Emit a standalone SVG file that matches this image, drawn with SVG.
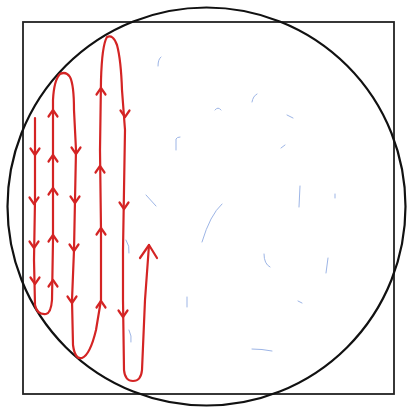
<svg xmlns="http://www.w3.org/2000/svg" xmlns:xlink="http://www.w3.org/1999/xlink" width="408" height="409" viewBox="0 0 408 409">
<style>
.frame{fill:none;stroke:#222;stroke-width:1.8}
.circ{fill:none;stroke:#111;stroke-width:2.2}
.red{fill:none;stroke:#d42424;stroke-width:2.2;stroke-linecap:round;stroke-linejoin:round}
.noise{fill:none;stroke:#9db5e6;stroke-width:1;stroke-linecap:round}
</style>
<defs>
<path id="dn" d="M-4.5,-6.5 L0,0 L4.5,-6.5" class="red"/>
<path id="up" d="M-4.5,6.5 L0,0 L4.5,6.5" class="red"/>
</defs>
<rect width="408" height="409" fill="#fff"/>
<g id="square"><rect class="frame" x="23" y="22" width="371" height="372"/></g>
<g id="circle"><circle class="circ" cx="206.5" cy="206.5" r="199"/></g>
<g id="noise">
<path class="noise" d="M158,66 Q158,59 161,57"/>
<path class="noise" d="M252,102 Q253,96 257,94"/>
<path class="noise" d="M215,110 Q218,106 221,110"/>
<path class="noise" d="M287,115 L293,118"/>
<path class="noise" d="M176,150 L176,139 Q177,137 180,137"/>
<path class="noise" d="M281,148 L285,145"/>
<path class="noise" d="M146,195 L156,206"/>
<path class="noise" d="M222,204 Q210,215 202,242"/>
<path class="noise" d="M300,186 L299,207"/>
<path class="noise" d="M335,194 L335,198"/>
<path class="noise" d="M126,240 Q130,246 129,253"/>
<path class="noise" d="M129,330 Q132,336 131,342"/>
<path class="noise" d="M264,254 Q264,264 270,267"/>
<path class="noise" d="M328,258 L326,273"/>
<path class="noise" d="M187,297 L187,307"/>
<path class="noise" d="M298,301 L302,303"/>
<path class="noise" d="M252,349 Q262,349 272,351"/>
</g>
<g id="connectors">
<path class="red" d="M35,118 L35,200 L34,260 L35,305 Q37,315 46,314 Q51,313 52,300 L53,240 L53,160 L53,100 Q54,80 60,74 Q66,71 70,77 Q74,85 74,110 L76,150 L74,250 L72,300 L73,345 Q75,360 82,358 Q90,355 96,330 L101,300 L101,230 L100,150 L101,80 Q102,45 107,37 Q113,34 117,45 Q121,60 122,90 L125,130 L123,250 L123,300 L124,370 Q125,381 133,381 Q141,381 142,370 L145,300 L149,245"/>
<use xlink:href="#dn" x="35" y="155"/>
<use xlink:href="#dn" x="34" y="204"/>
<use xlink:href="#dn" x="34" y="248"/>
<use xlink:href="#dn" x="35" y="284"/>
<use xlink:href="#up" x="53" y="110"/>
<use xlink:href="#up" x="53" y="155"/>
<use xlink:href="#up" x="53" y="188"/>
<use xlink:href="#up" x="53" y="235"/>
<use xlink:href="#up" x="53" y="280"/>
<use xlink:href="#dn" x="76" y="154"/>
<use xlink:href="#dn" x="75" y="203"/>
<use xlink:href="#dn" x="74" y="251"/>
<use xlink:href="#dn" x="72" y="303"/>
<use xlink:href="#up" x="101" y="88"/>
<use xlink:href="#up" x="100" y="166"/>
<use xlink:href="#up" x="101" y="228"/>
<use xlink:href="#up" x="101" y="301"/>
<use xlink:href="#dn" x="125" y="117"/>
<use xlink:href="#dn" x="124" y="209"/>
<use xlink:href="#dn" x="123" y="317"/>
<path class="red" d="M140,258 L149,245 L157,258"/>
</g>
</svg>
